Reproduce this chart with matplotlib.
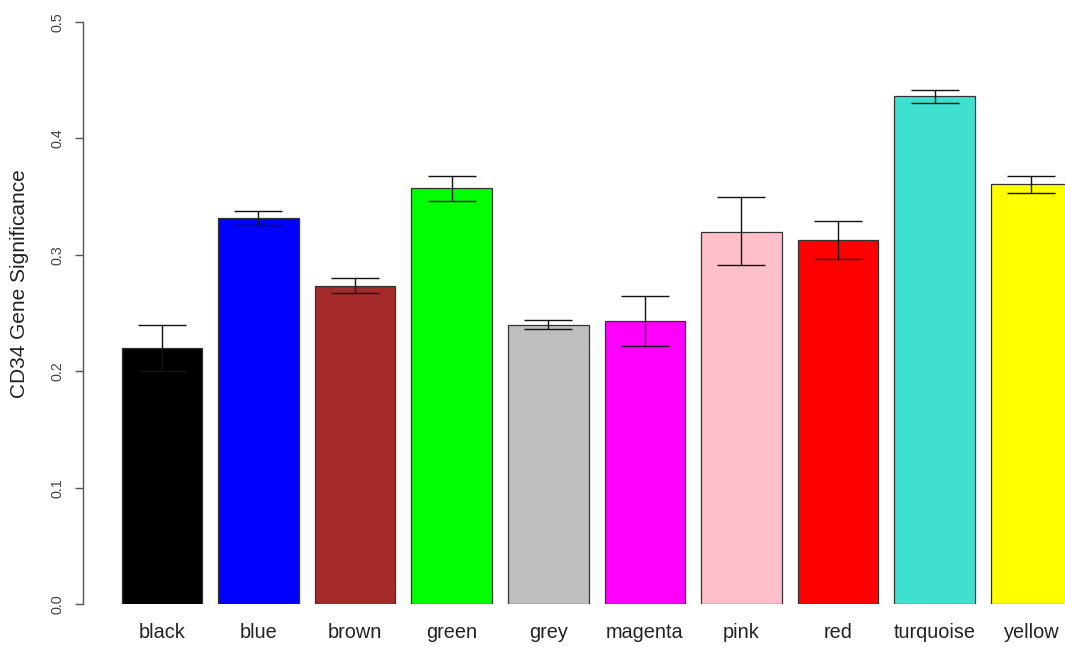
import matplotlib
matplotlib.use("Agg")
import matplotlib.pyplot as plt
import numpy as np

modules = ["black", "blue", "brown", "green", "grey", "magenta", "pink", "red", "turquoise", "yellow"]
bar_colors = ["#000000", "#0000FF", "#A52A2A", "#00FF00", "#BEBEBE", "#FF00FF", "#FFC0CB", "#FF0000", "#40E0D0", "#FFFF00"]
means = [0.220, 0.332, 0.273, 0.357, 0.240, 0.243, 0.320, 0.313, 0.436, 0.361]
err_upper = [0.240, 0.338, 0.280, 0.368, 0.244, 0.265, 0.350, 0.329, 0.442, 0.368]
err_lower = [0.200, 0.326, 0.267, 0.346, 0.236, 0.222, 0.291, 0.296, 0.430, 0.353]
yticks = [0.0, 0.1, 0.2, 0.3, 0.4, 0.5]

plt.rcParams['font.family'] = ['Liberation Sans', 'DejaVu Sans']

W, H = 1065, 649
fig = plt.figure(figsize=(W / 100, H / 100), dpi=100)
left_px, right_px, top_px, bot_px = 83, 1065, 22, 604
ax = fig.add_axes([left_px / W, (H - bot_px) / H, (right_px - left_px) / W, (bot_px - top_px) / H])

n = len(modules)
x = 0.7 + 1.2 * np.arange(n)
m = np.array(means)
up = np.array(err_upper) - m
lo = m - np.array(err_lower)

ax.bar(x, m, width=1.0, color=bar_colors, edgecolor="#333333", linewidth=0.9, clip_on=True)
ax.errorbar(x, m, yerr=[lo, up], fmt="none", ecolor="#111111", elinewidth=1.0,
            capsize=17, capthick=1.0, clip_on=False)

ax.set_xlim(-0.28, -0.28 + (right_px - left_px) / 80.5)
ax.set_ylim(0, 0.5)

for s in ["top", "right", "bottom"]:
    ax.spines[s].set_visible(False)
ax.spines["left"].set_color("#555555")
ax.spines["left"].set_linewidth(1.0)
ax.spines["left"].set_bounds(0, 0.5)

ax.set_yticks(yticks)
ax.set_yticklabels([f"{v:.1f}" for v in yticks], rotation=90, va="center", fontsize=10.4, color="#444444")
ax.tick_params(axis="y", length=6, width=1.0, color="#555555", pad=7)

ax.set_xticks(x)
ax.set_xticklabels(modules, fontsize=14.3, color="#222222")
ax.tick_params(axis="x", length=0, pad=14)

fig.text(19.5 / W, (H - 284) / H, "CD34 Gene Significance", rotation=90, ha="center", va="center",
         fontsize=15, color="#222222")

fig.savefig("out.png", dpi=100)
